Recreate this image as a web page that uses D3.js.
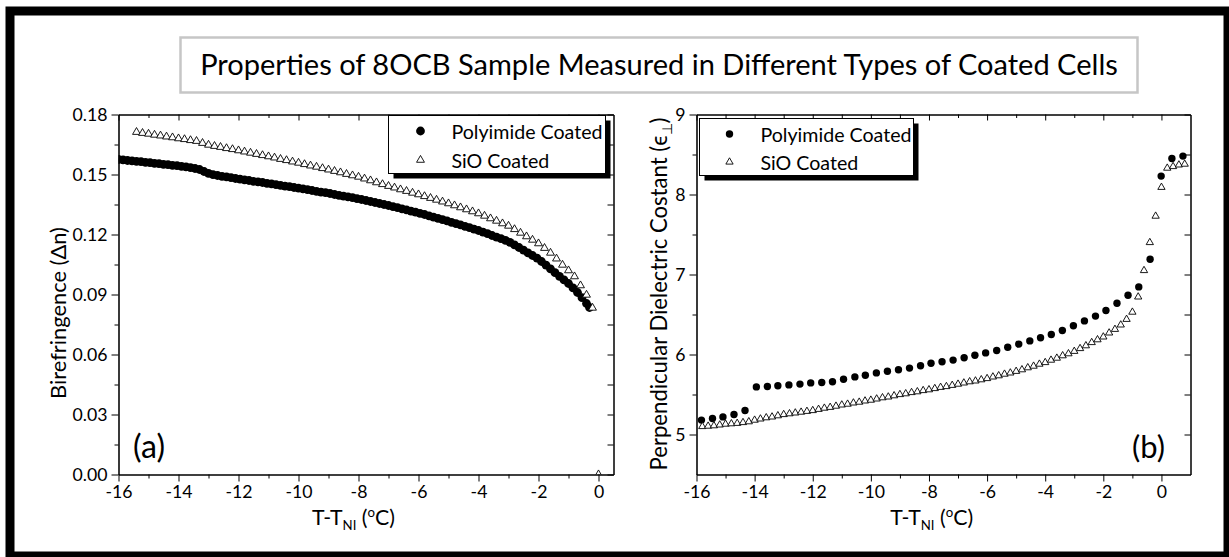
<!DOCTYPE html>
<html><head><meta charset="utf-8">
<script src="https://cdn.jsdelivr.net/npm/d3@7"></script>
<style>
body{margin:0;background:#fff}
svg{display:block}
text{font-family:Lato,"Open Sans",sans-serif;fill:#000}
</style>
</head><body>
<svg id="c" width="1229" height="557"></svg>
<script>
const titleText = "Properties of 8OCB Sample Measured in Different Types of Coated Cells";
const seriesNames = ["Polyimide Coated", "SiO Coated"];
const xTicks = [-16,-14,-12,-10,-8,-6,-4,-2,0];
const xMinor = [-15,-13,-11,-9,-7,-5,-3,-1];
const yTicksA = [0,0.03,0.06,0.09,0.12,0.15,0.18];
const yMinorA = [0.015,0.045,0.075,0.105,0.135,0.165];
const yTicksB = [5,6,7,8,9];
const yMinorB = [5.5,6.5,7.5,8.5];

// (a) Birefringence: [T-TNI, Δn]
const polyimideA = [
[-16.00,0.1575],[-15.85,0.1573],[-15.70,0.1570],[-15.55,0.1568],[-15.40,0.1566],[-15.25,0.1564],[-15.10,0.1561],[-14.95,0.1559],[-14.80,0.1556],[-14.65,0.1554],
[-14.50,0.1551],[-14.35,0.1549],[-14.20,0.1546],[-14.05,0.1544],[-13.90,0.1541],[-13.75,0.1538],[-13.60,0.1534],[-13.45,0.1530],[-13.30,0.1525],[-13.15,0.1515],
[-13.00,0.1506],[-12.85,0.1499],[-12.70,0.1495],[-12.55,0.1491],[-12.40,0.1488],[-12.25,0.1484],[-12.10,0.1480],[-11.95,0.1477],[-11.80,0.1473],[-11.65,0.1470],
[-11.50,0.1466],[-11.35,0.1463],[-11.20,0.1460],[-11.05,0.1456],[-10.90,0.1453],[-10.75,0.1449],[-10.60,0.1446],[-10.45,0.1442],[-10.30,0.1439],[-10.15,0.1435],
[-10.00,0.1432],[-9.85,0.1428],[-9.70,0.1424],[-9.55,0.1420],[-9.40,0.1416],[-9.25,0.1412],[-9.10,0.1409],[-8.95,0.1405],[-8.80,0.1400],[-8.65,0.1396],
[-8.50,0.1392],[-8.35,0.1388],[-8.20,0.1384],[-8.05,0.1379],[-7.90,0.1375],[-7.75,0.1370],[-7.60,0.1365],[-7.45,0.1360],[-7.30,0.1355],[-7.15,0.1350],
[-7.00,0.1345],[-6.85,0.1339],[-6.70,0.1334],[-6.55,0.1328],[-6.40,0.1323],[-6.25,0.1317],[-6.10,0.1312],[-5.95,0.1306],[-5.80,0.1300],[-5.65,0.1293],
[-5.50,0.1287],[-5.35,0.1281],[-5.20,0.1274],[-5.05,0.1268],[-4.90,0.1261],[-4.75,0.1254],[-4.60,0.1248],[-4.45,0.1241],[-4.30,0.1234],[-4.15,0.1227],
[-4.00,0.1220],[-3.85,0.1212],[-3.70,0.1204],[-3.55,0.1195],[-3.40,0.1187],[-3.25,0.1179],[-3.10,0.1171],[-2.95,0.1161],[-2.80,0.1148],[-2.65,0.1135],
[-2.50,0.1122],[-2.35,0.1108],[-2.20,0.1095],[-2.05,0.1082],[-1.90,0.1065],[-1.75,0.1047],[-1.60,0.1028],[-1.45,0.1009],[-1.30,0.0991],[-1.15,0.0973],
[-1.00,0.0955],[-0.85,0.0933],[-0.70,0.0910],[-0.55,0.0884],[-0.40,0.0855],[-0.30,0.0835]
];
const sioA = [
[-15.4,0.1712],[-15.2,0.1707],[-15.0,0.1703],[-14.8,0.1698],[-14.6,0.1694],[-14.4,0.1689],[-14.2,0.1685],[-14.0,0.1680],[-13.8,0.1676],[-13.6,0.1671],
[-13.4,0.1667],[-13.2,0.1657],[-13.0,0.1648],[-12.8,0.1642],[-12.6,0.1637],[-12.4,0.1631],[-12.2,0.1626],[-12.0,0.1620],[-11.8,0.1614],[-11.6,0.1608],
[-11.4,0.1602],[-11.2,0.1596],[-11.0,0.1590],[-10.8,0.1584],[-10.6,0.1577],[-10.4,0.1571],[-10.2,0.1564],[-10.0,0.1558],[-9.8,0.1551],[-9.6,0.1544],
[-9.4,0.1538],[-9.2,0.1531],[-9.0,0.1524],[-8.8,0.1517],[-8.6,0.1510],[-8.4,0.1502],[-8.2,0.1495],[-8.0,0.1488],[-7.8,0.1479],[-7.6,0.1470],
[-7.4,0.1460],[-7.2,0.1451],[-7.0,0.1442],[-6.8,0.1434],[-6.6,0.1425],[-6.4,0.1417],[-6.2,0.1408],[-6.0,0.1400],[-5.8,0.1391],[-5.6,0.1382],
[-5.4,0.1373],[-5.2,0.1364],[-5.0,0.1355],[-4.8,0.1345],[-4.6,0.1335],[-4.4,0.1325],[-4.2,0.1315],[-4.0,0.1305],[-3.8,0.1293],[-3.6,0.1280],
[-3.4,0.1268],[-3.2,0.1255],[-3.0,0.1243],[-2.8,0.1226],[-2.6,0.1208],[-2.4,0.1190],[-2.2,0.1173],[-2.0,0.1155],[-1.8,0.1132],[-1.6,0.1108],
[-1.4,0.1079],[-1.2,0.1048],[-1.0,0.1020],[-0.8,0.0990],[-0.6,0.0945],[-0.4,0.0898],[-0.2,0.0833],[0.0,0.0000]
];
// (b) Perpendicular dielectric constant
const polyimideB = [
[-15.83,5.18],[-15.45,5.20],[-15.09,5.22],[-14.71,5.25],[-14.33,5.30],[-13.94,5.595],[-13.56,5.60],[-13.20,5.61],[-12.82,5.62],[-12.44,5.63],
[-12.07,5.645],[-11.69,5.65],[-11.32,5.66],[-10.94,5.69],[-10.55,5.72],[-10.19,5.74],[-9.81,5.77],[-9.43,5.79],[-9.05,5.81],[-8.67,5.83],
[-8.29,5.86],[-7.93,5.89],[-7.55,5.91],[-7.17,5.93],[-6.79,5.96],[-6.42,5.99],[-6.05,6.02],[-5.67,6.05],[-5.29,6.09],[-4.91,6.13],
[-4.53,6.17],[-4.16,6.21],[-3.79,6.25],[-3.41,6.30],[-3.03,6.36],[-2.65,6.42],[-2.27,6.48],[-1.91,6.55],[-1.53,6.64],[-1.15,6.74],
[-0.78,6.845],[-0.39,7.19],[-0.01,8.23],[0.36,8.45],[0.74,8.48]
];
const sioB = [
[-15.8,5.10],[-15.6,5.105],[-15.4,5.11],[-15.2,5.12],[-15.0,5.13],[-14.8,5.135],[-14.6,5.14],[-14.4,5.15],[-14.2,5.16],[-14.0,5.18],
[-13.8,5.195],[-13.6,5.21],[-13.4,5.22],[-13.2,5.235],[-13.0,5.25],[-12.8,5.26],[-12.6,5.27],[-12.4,5.28],[-12.2,5.29],[-12.0,5.30],
[-11.8,5.315],[-11.6,5.33],[-11.4,5.34],[-11.2,5.355],[-11.0,5.37],[-10.8,5.38],[-10.6,5.395],[-10.4,5.405],[-10.2,5.42],[-10.0,5.43],
[-9.8,5.445],[-9.6,5.46],[-9.4,5.47],[-9.2,5.485],[-9.0,5.50],[-8.8,5.51],[-8.6,5.525],[-8.4,5.535],[-8.2,5.55],[-8.0,5.56],
[-7.8,5.575],[-7.6,5.59],[-7.4,5.60],[-7.2,5.615],[-7.0,5.63],[-6.8,5.645],[-6.6,5.66],[-6.4,5.67],[-6.2,5.685],[-6.0,5.70],
[-5.8,5.72],[-5.6,5.735],[-5.4,5.755],[-5.2,5.77],[-5.0,5.79],[-4.8,5.81],[-4.6,5.835],[-4.4,5.855],[-4.2,5.88],[-4.0,5.90],
[-3.8,5.93],[-3.6,5.955],[-3.4,5.985],[-3.2,6.01],[-3.0,6.04],[-2.8,6.075],[-2.6,6.11],[-2.4,6.15],[-2.2,6.185],[-2.0,6.22],
[-1.8,6.27],[-1.6,6.315],[-1.4,6.37],[-1.2,6.44],[-1.0,6.53],[-0.8,6.72],[-0.6,7.05],[-0.4,7.40],[-0.2,7.73],[0.0,8.09],
[0.2,8.33],[0.4,8.35],[0.6,8.37],[0.8,8.38]
];

const svg = d3.select('#c');
svg.append('rect').attr('width',1229).attr('height',557).attr('fill','#fff');

function fitSize(sel, w){
  sel.attr('font-size', 20);
  const l = sel.node().getComputedTextLength();
  const f = 20*w/l;
  sel.attr('font-size', f);
  return f;
}
// tick label font size measured from "0.18"
const tmp = svg.append('text').text('0.18');
const tickFs = fitSize(tmp, 35); tmp.remove();

// outer frame
svg.append('rect').attr('x',10).attr('y',11).attr('width',1218).attr('height',545)
  .attr('fill','none').attr('stroke','#000').attr('stroke-width',9);
// title box
svg.append('rect').attr('x',180.5).attr('y',37.5).attr('width',957).attr('height',55)
  .attr('fill','#fff').attr('stroke','#c6c6c6').attr('stroke-width',2.5);
const title = svg.append('text').attr('x',659).attr('y',75).attr('text-anchor','middle').text(titleText);
fitSize(title, 918);

function xTitle(g, cx, y, w){
  const build = (F) => {
    g.selectAll('*').remove();
    const t = g.append('text').attr('x',cx).attr('y',y).attr('text-anchor','middle').attr('font-size',F);
    t.append('tspan').text('T-T');
    t.append('tspan').attr('font-size',F*0.62).attr('dy',F*0.22).text('NI');
    t.append('tspan').attr('dy',-F*0.22).text(' (');
    t.append('tspan').attr('font-size',F*0.62).attr('dy',-F*0.38).text('o');
    t.append('tspan').attr('dy',F*0.38).text('C)');
    return t;
  };
  const t = build(20);
  const l = t.node().getComputedTextLength();
  build(20*w/l);
}

function panel(o){
  const g = svg.append('g');
  const x = o.x, y = o.y;
  const [x0,x1] = x.range(), [y0,y1] = y.range();
  const cid = 'clip'+o.id;
  svg.append('clipPath').attr('id',cid).append('rect')
    .attr('x',x0).attr('y',y1).attr('width',x1-x0).attr('height',y0-y1);
  const data = g.append('g').attr('clip-path',`url(#${cid})`);
  data.selectAll('circle').data(o.s1).join('circle')
    .attr('cx',d=>x(d[0])).attr('cy',d=>y(d[1])).attr('r',o.r).attr('fill','#000');
  const tri = d3.symbol().type(d3.symbolTriangle).size(o.triSize);
  data.selectAll('path.tri').data(o.s2).join('path').attr('class','tri')
    .attr('transform',d=>`translate(${x(d[0])},${y(d[1])})`).attr('d',tri)
    .attr('fill','#fff').attr('stroke','#000').attr('stroke-width',0.9);

  const ax = g.append('g').attr('color','#000');
  const style = s => { s.selectAll('text').attr('font-size',tickFs).attr('fill','#000'); s.select('.domain').attr('stroke-width',1.1); };
  ax.append('g').attr('transform',`translate(0,${y0})`)
    .call(d3.axisBottom(x).tickValues(xTicks).tickSize(7).tickSizeOuter(0).tickPadding(4).tickFormat(d=>String(d))).call(style);
  ax.append('g').attr('transform',`translate(0,${y0})`)
    .call(d3.axisBottom(x).tickValues(xMinor).tickSize(4).tickSizeOuter(0).tickFormat(''));
  ax.append('g').attr('transform',`translate(0,${y1})`)
    .call(d3.axisBottom(x).tickValues(xTicks).tickSize(6).tickSizeOuter(0).tickFormat(''));
  ax.append('g').attr('transform',`translate(0,${y1})`)
    .call(d3.axisBottom(x).tickValues(xMinor).tickSize(3.5).tickSizeOuter(0).tickFormat(''));
  ax.append('g').attr('transform',`translate(${x0},0)`)
    .call(d3.axisLeft(y).tickValues(o.yT).tickSize(7).tickSizeOuter(0).tickPadding(4).tickFormat(o.yFmt)).call(style);
  ax.append('g').attr('transform',`translate(${x0},0)`)
    .call(d3.axisLeft(y).tickValues(o.yM).tickSize(4).tickSizeOuter(0).tickFormat(''));
  ax.append('g').attr('transform',`translate(${x1},0)`)
    .call(d3.axisLeft(y).tickValues(o.yT).tickSize(6).tickSizeOuter(0).tickFormat(''));
  ax.append('g').attr('transform',`translate(${x1},0)`)
    .call(d3.axisLeft(y).tickValues(o.yM).tickSize(6).tickSizeOuter(0).tickFormat(''));

  // legend
  const L = o.leg;
  g.append('rect').attr('x',L.x+5).attr('y',L.y+5).attr('width',L.w).attr('height',L.h).attr('fill','#000');
  g.append('rect').attr('x',L.x).attr('y',L.y).attr('width',L.w).attr('height',L.h)
    .attr('fill','#fff').attr('stroke','#000').attr('stroke-width',1);
  const t1 = g.append('text').attr('x',L.x+L.tx).attr('y',L.b1).text(seriesNames[0]);
  const lf = fitSize(t1, 151);
  g.append('text').attr('x',L.x+L.tx).attr('y',L.b2).attr('font-size',lf).text(seriesNames[1]);
  g.append('circle').attr('cx',L.x+L.mx).attr('cy',L.b1-8).attr('r',o.r);
  g.append('path').attr('transform',`translate(${L.x+L.mx},${L.b2-8})`).attr('d',tri)
    .attr('fill','#fff').attr('stroke','#000').attr('stroke-width',0.9);

  // panel label
  const pl = g.append('text').attr('x',o.pl[0]).attr('y',o.pl[1]).text(o.plText);
  fitSize(pl, o.pl[2]);

  // y title
  const yt = g.append('text').attr('text-anchor','middle')
    .attr('transform',`translate(${o.yTitle.x},${o.yTitle.cy}) rotate(-90)`);
  o.yTitle.build(yt);
  const l = yt.node().getComputedTextLength();
  yt.selectAll('*').remove(); yt.text(null);
  o.yTitle.build(yt, 20*o.yTitle.w/l);

  xTitle(g.append('g'), o.xTitle[0], o.xTitle[1], o.xTitle[2]);
}

panel({
  id:'a',
  x: d3.scaleLinear().domain([-16,0.5]).range([118.5,613.5]),
  y: d3.scaleLinear().domain([0,0.18]).range([474.5,114.5]),
  s1: polyimideA, s2: sioA, r:4.4, triSize:27,
  yT: yTicksA, yM: yMinorA, yFmt: d3.format('.2f'),
  leg: {x:388.5, y:115.5, w:217, h:58, tx:63, mx:32, b1:139, b2:168},
  pl: [133, 458, 32], plText:'(a)',
  yTitle: {x:66, cy:313, w:172, build:(t,F=20)=>{
    t.attr('font-size',F);
    t.append('tspan').text('Birefringence (');
    t.append('tspan').text('\u0394');
    t.append('tspan').text('n)');
  }},
  xTitle: [353.5, 525, 83]
});

panel({
  id:'b',
  x: d3.scaleLinear().domain([-16,1]).range([696.5,1190.5]),
  y: d3.scaleLinear().domain([4.5,9]).range([474.5,114.5]),
  s1: polyimideB, s2: sioB, r:3.7, triSize:23,
  yT: yTicksB, yM: yMinorB, yFmt: d=>String(d),
  leg: {x:699.5, y:118.5, w:214, h:57, tx:61, mx:30, b1:142, b2:170},
  pl: [1132, 458, 33], plText:'(b)',
  yTitle: {x:667, cy:294, w:352, build:(t,F=20)=>{
    t.attr('font-size',F);
    t.append('tspan').text('Perpendicular Dielectric Costant (');
    t.append('tspan').text('\u03F5');
    t.append('tspan').attr('font-size',F*0.62).attr('dy',F*0.22).text('\u22A5');
    t.append('tspan').attr('dy',-F*0.22).text(')');
  }},
  xTitle: [931.7, 525, 83]
});
</script>
</body></html>
